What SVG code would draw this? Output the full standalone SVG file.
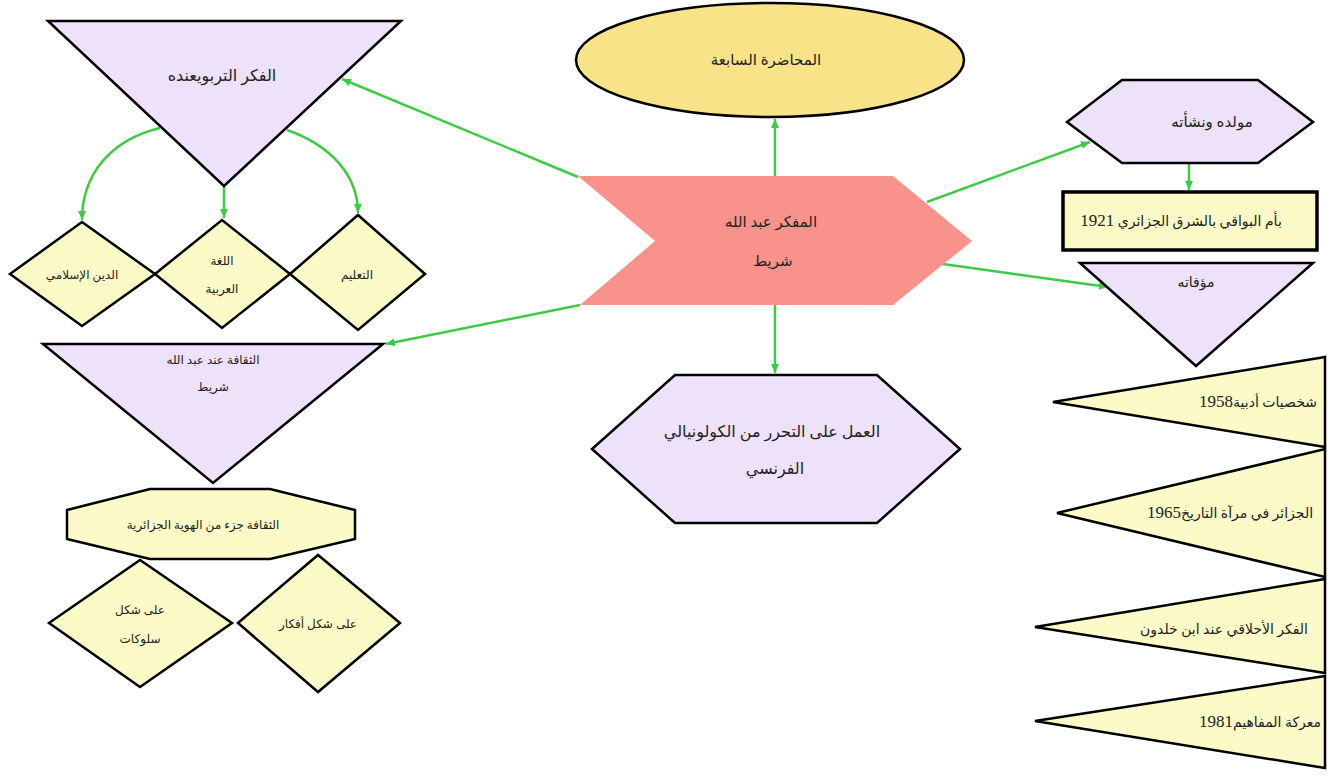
<svg xmlns="http://www.w3.org/2000/svg" width="1338" height="778" viewBox="0 0 1338 778">
<style>
.lav{fill:#EEE2FA;stroke:#000;stroke-width:2.5;stroke-linejoin:miter}
.yel{fill:#FCFAC6;stroke:#000;stroke-width:2.5}
.t{font-family:"Liberation Serif","DejaVu Sans",serif;font-size:14px;fill:#222;text-anchor:middle;direction:rtl}
.s{font-size:12px}
.n{font-size:17px}
.c{fill:none;stroke:#3DCB45;stroke-width:2.5}
</style>
<defs>
<marker id="ah" markerUnits="userSpaceOnUse" markerWidth="10" markerHeight="10" refX="9" refY="5" orient="auto">
<path d="M0,1 L9,5 L0,9 z" fill="#3DCB45"/>
</marker>
</defs>
<rect width="1338" height="778" fill="#fff"/>
<g id="connectors">
<path class="c" d="M160,128 C110,140 82,175 82,220" marker-end="url(#ah)"/>
<path class="c" d="M224,186 L224,218" marker-end="url(#ah)"/>
<path class="c" d="M287,130 C330,145 358,175 358,213" marker-end="url(#ah)"/>
<path class="c" d="M578,177 L342,79" marker-end="url(#ah)"/>
<path class="c" d="M580,305 L386,344" marker-end="url(#ah)"/>
<path class="c" d="M775,176 L775,119" marker-end="url(#ah)"/>
<path class="c" d="M775,305 L775,373" marker-end="url(#ah)"/>
<path class="c" d="M927,202 L1090,142" marker-end="url(#ah)"/>
<path class="c" d="M943,264 L1108,287" marker-end="url(#ah)"/>
<path class="c" d="M1189,164 L1189,190" marker-end="url(#ah)"/>
</g>
<g id="n-tarbawi">
<polygon class="lav" points="48,21 401,21 224,186"/>
<text class="t" x="222" y="81" style="font-size:16px">الفكر التربويعنده</text>
</g>
<g id="n-din">
<polygon class="yel" points="10,274 82,222 155,274 82,326"/>
<text class="t s" x="82" y="279">الدين الإسلامي</text>
</g>
<g id="n-lugha">
<polygon class="yel" points="155,274 222,220 290,274 222,328"/>
<text class="t s" x="222" y="265">اللغة</text>
<text class="t s" x="222" y="293">العربية</text>
</g>
<g id="n-taalim">
<polygon class="yel" points="290,274 358,215 425,274 358,330"/>
<text class="t s" x="357" y="279">التعليم</text>
</g>
<g id="n-muhadara">
<ellipse cx="770" cy="60" rx="194" ry="57" fill="#F9E388" stroke="#000" stroke-width="2.5"/>
<text class="t" x="766" y="65" style="font-size:15px">المحاضرة السابعة</text>
</g>
<g id="n-center">
<polygon points="578,176 893,176 972,241 893,305 580,305 655,241" fill="#F9928A"/>
<text class="t" x="771" y="227" style="font-size:15px">المفكر عبد الله</text>
<text class="t" x="773" y="266" style="font-size:15px">شريط</text>
</g>
<g id="n-amal">
<polygon class="lav" points="675,375 877,375 960,449 877,523 675,523 592,449"/>
<text class="t" x="772" y="437" style="font-size:16px">العمل على التحرر من الكولونيالي</text>
<text class="t" x="775" y="474" style="font-size:16px">الفرنسي</text>
</g>
<g id="n-mawlid">
<polygon class="lav" points="1122,80 1258,80 1313,122 1258,163 1122,163 1067,122"/>
<text class="t" x="1212" y="127" style="font-size:15px">مولده ونشأته</text>
</g>
<g id="n-umm">
<rect x="1063" y="192" width="254" height="58" fill="#FCFAC6" stroke="#000" stroke-width="3.5"/>
<text class="t" x="1181" y="226">بأم البواقي بالشرق الجزائري <tspan class="n">1921</tspan></text>
</g>
<g id="n-muallafat">
<polygon class="lav" points="1080,263 1313,263 1196,366"/>
<text class="t" x="1196" y="287">مؤفاته</text>
</g>
<g id="n-b1">
<polygon class="yel" points="1325,357 1325,447 1053,402"/>
<text class="t" x="1258" y="407">شخصيات أدبية<tspan class="n">1958</tspan></text>
</g>
<g id="n-b2">
<polygon class="yel" points="1325,449 1325,577 1057,513"/>
<text class="t" x="1230" y="518">الجزائر في مرآة التاريخ<tspan class="n">1965</tspan></text>
</g>
<g id="n-b3">
<polygon class="yel" points="1325,579 1325,673 1035,627"/>
<text class="t" x="1224" y="634">الفكر  الأحلاقي عند ابن خلدون</text>
</g>
<g id="n-b4">
<polygon class="yel" points="1325,676 1325,768 1035,721"/>
<text class="t" x="1260" y="727">معركة المفاهيم<tspan class="n">1981</tspan></text>
</g>
<g id="n-thaqafa">
<polygon class="lav" points="43,344 383,344 213,483"/>
<text class="t s" x="213" y="364">الثقافة عند عبد الله</text>
<text class="t s" x="213" y="391">شريط</text>
</g>
<g id="n-juz">
<polygon class="yel" points="67,510 150,489 270,489 355,510 355,539 270,559 150,559 67,539"/>
<text class="t s" x="203" y="529">الثقافة جزء من الهوية الجزائرية</text>
</g>
<g id="n-suluk">
<polygon class="yel" points="49,623 140,560 232,623 140,687"/>
<text class="t s" x="140" y="614">على شكل</text>
<text class="t s" x="140" y="643">سلوكات</text>
</g>
<g id="n-afkar">
<polygon class="yel" points="238,623 318,555 400,623 318,692"/>
<text class="t s" x="318" y="628">على شكل أفكار</text>
</g>
</svg>
